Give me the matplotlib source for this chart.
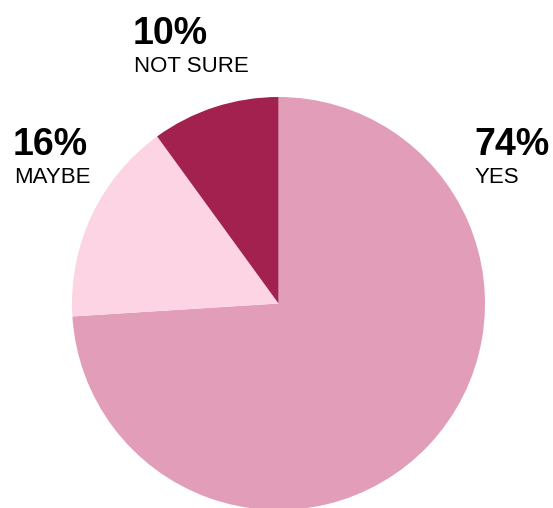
import matplotlib.pyplot as plt

answers = ['YES', 'MAYBE', 'NOT SURE']
shares = [74, 16, 10]
colors = ['#E29DB8', '#FCD4E3', '#A3214F']

W, H = 553, 508
fig = plt.figure(figsize=(W / 100, H / 100), dpi=100)
ax = fig.add_axes([0, 0, 1, 1])

# pie drawn in pixel-sized data units, y measured from the bottom
ax.pie(shares, colors=colors, startangle=90, counterclock=False,
       center=(278.5, 204.5), radius=206.5, frame=True,
       wedgeprops=dict(linewidth=0))
ax.set_xlim(0, W)
ax.set_ylim(0, H)
ax.set_aspect('equal')
ax.axis('off')

# label anchors (left x, baseline of the percentage)
label_pos = {'YES': (474, 353), 'MAYBE': (13, 353), 'NOT SURE': (133, 464)}
for name, val in zip(answers, shares):
    x, y = label_pos[name]
    ax.text(x, y, f'{val}%', fontsize=27, fontweight='bold',
            family='Liberation Sans', ha='left', va='baseline')
    ax.text(x + 1, y - 28, name, fontsize=16,
            family='Liberation Sans', ha='left', va='baseline')

fig.savefig('out.png', dpi=100)
